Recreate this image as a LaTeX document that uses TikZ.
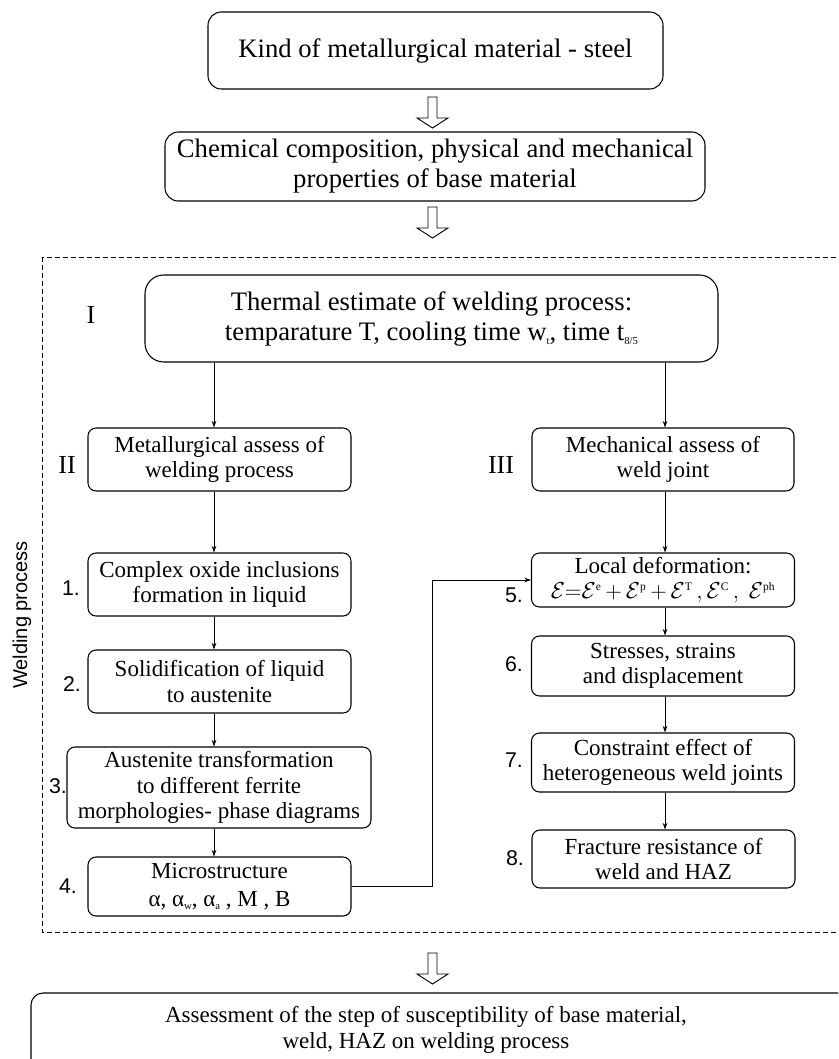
\documentclass[tikz,border=0pt]{standalone}
\usepackage{fontspec}
\setmainfont{Liberation Serif}
\newfontfamily\arialfont{Liberation Sans}
\usetikzlibrary{arrows.meta}
\newcommand{\lowsub}[1]{\raisebox{-0.35ex}{\fontsize{8}{8}\selectfont #1}}
\tikzset{
 bigbox/.style={draw, line width=.8pt, rounded corners=10pt, align=center, inner sep=0pt, font=\fontsize{20}{22.5}\selectfont},
 smallbox/.style={draw, line width=.8pt, rounded corners=6pt, align=center, inner sep=0pt, minimum width=197.25pt, minimum height=47.25pt, font=\fontsize{17.25}{19}\selectfont},
 numlabel/.style={font=\arialfont\fontsize{16}{16}\selectfont},
 romlabel/.style={font=\fontsize{19.5}{19.5}\selectfont},
 link/.style={line width=.7pt, -{Stealth[length=5pt,width=3.5pt]}},
 hollow/.pic={\draw[line width=.7pt] (-4.5,0)--(-4.5,21)--(-15.5,21)--(0,31)--(15.5,21)--(4.5,21)--(4.5,0)--cycle;}
}
\begin{document}
\begin{tikzpicture}[x=0.75pt,y=-0.75pt]
\useasboundingbox (0,0) rectangle (838,1059);
\clip (0,0) rectangle (838,1059);
% frame of the welding process
\draw[line width=.6pt, dash pattern=on 3.75pt off 2.25pt] (42,257) rectangle (900,932);
\node[font=\arialfont\fontsize{15}{15}\selectfont, rotate=90] (weld) at (22,615) {Welding process};
% top boxes
\node[bigbox, minimum width=341.25pt, minimum height=57.75pt] (kind) at (435.5,50.5) {Kind of metallurgical material - steel};
\node[bigbox, minimum width=405pt, minimum height=51.75pt] (chem) at (435,166.5) {Chemical composition, physical and mechanical\\properties of base material};
\node[bigbox, rounded corners=14pt, minimum width=429.75pt, minimum height=65.25pt] (therm) at (431.5,318.5) {Thermal estimate of welding process:\\temparature T, cooling time w\lowsub{t}, time t\lowsub{8/5}};
\pic at (432.5,97) {hollow};
\pic at (432.5,207) {hollow};
% left column
\node[smallbox] (metal) at (219.5,459.5) {Metallurgical assess of\\welding process};
\node[smallbox] (oxide) at (219.5,584.5) {Complex oxide inclusions\\formation in liquid};
\node[smallbox] (solid) at (219.5,681.5) {Solidification of liquid\\to austenite};
\node[smallbox, minimum width=228pt, minimum height=60.75pt] (auste) at (219,787.5) {Austenite transformation\\to different ferrite\\morphologies- phase diagrams};
\node[smallbox, minimum height=44.25pt] (micro) at (219.5,886.5) {Microstructure\\[2pt]α, α\lowsub{w}, α\lowsub{a} , M , B};
% right column
\node[smallbox, minimum width=196.5pt] (mech) at (663,459.5) {Mechanical assess of\\weld joint};
\node[smallbox, minimum height=40.5pt] (local) at (663,580) {Local deformation:\\$\mathcal{E}{=}\mathcal{E}^{\scriptscriptstyle\rm e}\,{+}\,\mathcal{E}^{\scriptscriptstyle\rm p}\,{+}\,\mathcal{E}^{\scriptscriptstyle\rm T}\,,\mathcal{E}^{\scriptscriptstyle\rm C}\,,\ \mathcal{E}^{\scriptscriptstyle\rm ph}$};
\node[smallbox, minimum height=45pt] (stress) at (663,666) {Stresses, strains\\and displacement};
\node[smallbox, minimum height=44.25pt] (constr) at (663,762.5) {Constraint effect of\\heterogeneous weld joints};
\node[smallbox, minimum height=43.5pt] (fract) at (663.5,859) {Fracture resistance of\\weld and HAZ};
% labels
\node[romlabel] (rI) at (91,315) {I};
\node[romlabel] (rII) at (67,465) {II};
\node[romlabel] (rIII) at (501,465) {III};
\node[numlabel] (n1) at (71,588) {1.};
\node[numlabel] (n2) at (72,684) {2.};
\node[numlabel] (n3) at (58,786) {3.};
\node[numlabel] (n4) at (68,886) {4.};
\node[numlabel] (n5) at (514,595) {5.};
\node[numlabel] (n6) at (514,664) {6.};
\node[numlabel] (n7) at (514,760) {7.};
\node[numlabel] (n8) at (515,858) {8.};
% connectors
\coordinate (lcol) at (214,0);
\coordinate (rcol) at (665,0);
\coordinate (bend) at (432,580);
\draw[link] (therm.south -| lcol) -- (metal.north -| lcol);
\draw[link] (metal.south -| lcol) -- (oxide.north -| lcol);
\draw[link] (oxide.south -| lcol) -- (solid.north -| lcol);
\draw[link] (solid.south -| lcol) -- (auste.north -| lcol);
\draw[link] (auste.south -| lcol) -- (micro.north -| lcol);
\draw[link] (therm.south -| rcol) -- (mech.north -| rcol);
\draw[link] (mech.south -| rcol) -- (local.north -| rcol);
\draw[link] (local.south -| rcol) -- (stress.north -| rcol);
\draw[link] (stress.south -| rcol) -- (constr.north -| rcol);
\draw[link] (constr.south -| rcol) -- (fract.north -| rcol);
\draw[link] (micro.east) -| (bend) -- (local.west);
% result
\pic at (432.5,953) {hollow};
\draw[line width=.8pt, rounded corners=9pt] (31,993) rectangle (900,1120);
\node[font=\fontsize{17.25}{19.5}\selectfont, align=center] (assess) at (426,1030) {Assessment of the step of susceptibility of base material,\\weld, HAZ on welding process};
\end{tikzpicture}
\end{document}
